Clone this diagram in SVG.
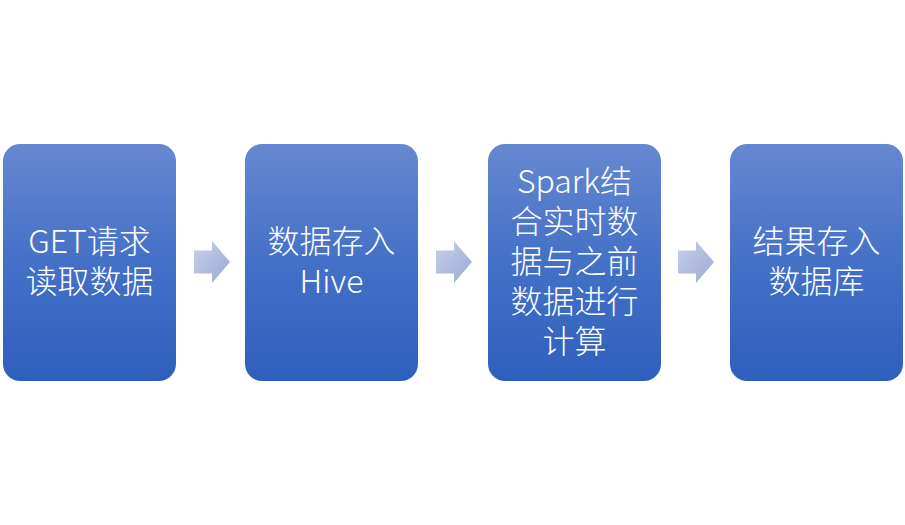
<svg xmlns="http://www.w3.org/2000/svg" width="905" height="525" viewBox="0 0 905 525">
<defs>
<linearGradient id="bg" x1="0" y1="0" x2="0" y2="1">
<stop offset="0" stop-color="#6688d0"/>
<stop offset="0.5" stop-color="#4470c7"/>
<stop offset="1" stop-color="#2f5fbd"/>
</linearGradient>
<linearGradient id="ag" x1="0" y1="0" x2="1" y2="1">
<stop offset="0" stop-color="#c8cfe8"/>
<stop offset="1" stop-color="#9aa9d6"/>
</linearGradient>
<path id="arr" d="M0,-11.5 H18 V-21 L36,0 L18,21 V11.5 H0 Z"/>
</defs>
<style>
.box{fill:url(#bg);}
.t{font-family:"Noto Sans CJK SC","Noto Sans",sans-serif;font-size:32px;font-weight:300;fill:#ffffff;text-anchor:middle;}
.a{fill:url(#ag);}
</style>
<rect width="905" height="525" fill="#ffffff"/>
<g id="connectors">
<use href="#arr" class="a" x="194" y="262"/>
<use href="#arr" class="a" x="436" y="262"/>
<use href="#arr" class="a" x="678" y="262"/>
</g>
<g id="n1">
<rect class="box" x="3" y="144" width="173" height="237" rx="17"/>
<text class="t" x="89.5" y="253">GET请求</text>
<text class="t" x="89.5" y="293">读取数据</text>
</g>
<g id="n2">
<rect class="box" x="245" y="144" width="173" height="237" rx="17"/>
<text class="t" x="331.5" y="253">数据存入</text>
<text class="t" x="331.5" y="293">Hive</text>
</g>
<g id="n3">
<rect class="box" x="488" y="144" width="173" height="237" rx="17"/>
<text class="t" x="574.5" y="193">Spark结</text>
<text class="t" x="574.5" y="233">合实时数</text>
<text class="t" x="574.5" y="273">据与之前</text>
<text class="t" x="574.5" y="313">数据进行</text>
<text class="t" x="574.5" y="353">计算</text>
</g>
<g id="n4">
<rect class="box" x="730" y="144" width="173" height="237" rx="17"/>
<text class="t" x="816.5" y="253">结果存入</text>
<text class="t" x="816.5" y="293">数据库</text>
</g>
</svg>
